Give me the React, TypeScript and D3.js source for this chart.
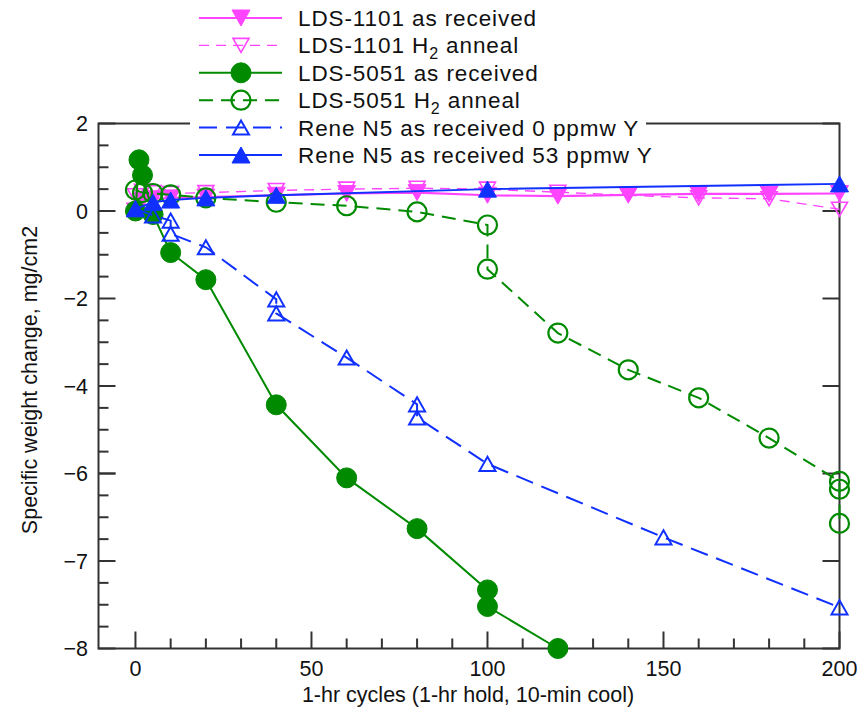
import React from "react";
import * as d3 from "d3";

// Cycle counts and specific weight change (mg/cm2) per specimen series
const lds1101ArCycles = [0, 2, 5, 10, 20, 40, 60, 80, 100, 120, 140, 160, 180, 200];
const lds1101ArValues = [0.0, 0.25, 0.28, 0.3, 0.32, 0.36, 0.4, 0.42, 0.36, 0.34, 0.37, 0.39, 0.39, 0.4];

const lds1101H2Cycles = [0, 2, 5, 10, 20, 40, 60, 80, 100, 120, 140, 160, 180, 200];
const lds1101H2Values = [0.35, 0.45, 0.42, 0.4, 0.42, 0.47, 0.5, 0.52, 0.5, 0.43, 0.36, 0.3, 0.28, 0.04];

const lds5051ArCycles = [0, 1, 2, 5, 10, 20, 40, 60, 80, 100, 100, 120];
const lds5051ArValues = [0.0, 1.17, 0.82, -0.08, -0.95, -1.57, -4.43, -6.05, -6.63, -7.33, -7.52, -8.0];

const lds5051H2Cycles = [0, 2, 5, 10, 20, 40, 60, 80, 100, 100, 120, 140, 160, 180, 200, 200, 200];
const lds5051H2Values = [0.48, 0.42, 0.4, 0.37, 0.3, 0.2, 0.12, -0.02, -0.32, -1.33, -2.79, -3.63, -4.27, -5.19, -6.09, -6.18, -6.57];

const reneY0Cycles = [0, 5, 10, 10, 20, 40, 40, 60, 80, 80, 100, 150, 200];
const reneY0Values = [0.05, -0.1, -0.22, -0.52, -0.83, -2.02, -2.34, -3.35, -4.42, -4.72, -5.78, -6.73, -7.53];

const reneY53Cycles = [0, 5, 10, 20, 40, 100, 200];
const reneY53Values = [0.05, 0.2, 0.25, 0.3, 0.36, 0.5, 0.62];

const xTickLabels = [0, 50, 100, 150, 200];
const yTickLabels = [2, 0, -2, -4, -6, -7, -8];

const MAGENTA = "#ff44ff";
const GREEN = "#008a00";
const BLUE = "#1030ff";

type Marker = "triDownFilled" | "triDownOpen" | "circleFilled" | "circleOpen" | "triUpOpen" | "triUpFilled";

interface Series {
  name: string;
  sub?: string;
  tail?: string;
  cycles: number[];
  values: number[];
  color: string;
  width: number;
  dash?: string;
  marker: Marker;
}

const series: Series[] = [
  { name: "LDS-1101 as received", cycles: lds1101ArCycles, values: lds1101ArValues, color: MAGENTA, width: 2.2, marker: "triDownFilled" },
  { name: "LDS-1101 H", sub: "2", tail: " anneal", cycles: lds1101H2Cycles, values: lds1101H2Values, color: MAGENTA, width: 1.4, dash: "10,7", marker: "triDownOpen" },
  { name: "LDS-5051 as received", cycles: lds5051ArCycles, values: lds5051ArValues, color: GREEN, width: 2, marker: "circleFilled" },
  { name: "LDS-5051 H", sub: "2", tail: " anneal", cycles: lds5051H2Cycles, values: lds5051H2Values, color: GREEN, width: 2, dash: "14,8", marker: "circleOpen" },
  { name: "Rene N5 as received 0 ppmw Y", cycles: reneY0Cycles, values: reneY0Values, color: BLUE, width: 2, dash: "18,9", marker: "triUpOpen" },
  { name: "Rene N5 as received 53 ppmw Y", cycles: reneY53Cycles, values: reneY53Values, color: BLUE, width: 2, marker: "triUpFilled" },
];

// plotting order: annealed LDS-1101 beneath the as-received set
const drawOrder = [1, 0, 2, 3, 4, 5];

const W = 862;
const H = 713;
const FONT = "Liberation Sans, Arial, sans-serif";

function MarkerShape({ kind, cx, cy, color }: { kind: Marker; cx: number; cy: number; color: string }) {
  switch (kind) {
    case "circleFilled":
      return <circle cx={cx} cy={cy} r={10} fill={color} stroke={color} strokeWidth={1} />;
    case "circleOpen":
      return <circle cx={cx} cy={cy} r={9.5} fill="none" stroke={color} strokeWidth={2.2} />;
    case "triDownFilled": {
      const w = 18, h = 16;
      const d = `M${cx - w / 2},${cy - h / 2}L${cx + w / 2},${cy - h / 2}L${cx},${cy + h / 2}Z`;
      return <path d={d} fill={color} stroke={color} strokeWidth={1} />;
    }
    case "triDownOpen": {
      const w = 16, h = 14;
      const d = `M${cx - w / 2},${cy - h / 2}L${cx + w / 2},${cy - h / 2}L${cx},${cy + h / 2}Z`;
      return <path d={d} fill="none" stroke={color} strokeWidth={1.6} />;
    }
    case "triUpFilled": {
      const w = 18, h = 16;
      const d = `M${cx - w / 2},${cy + h / 2}L${cx + w / 2},${cy + h / 2}L${cx},${cy - h / 2}Z`;
      return <path d={d} fill={color} stroke={color} strokeWidth={1} />;
    }
    case "triUpOpen": {
      const w = 16, h = 14;
      const d = `M${cx - w / 2},${cy + h / 2}L${cx + w / 2},${cy + h / 2}L${cx},${cy - h / 2}Z`;
      return <path d={d} fill="none" stroke={color} strokeWidth={2} />;
    }
  }
  return null;
}

export default function App() {
  const left = 98.5, right = 839.5, top = 123.5, bottom = 648.5;

  const x = d3.scaleLinear().domain([-10.5, 200]).range([left, right]);
  // Piecewise scale: 2 units per step down to -6, then 1 unit per step below
  const y = d3.scaleLinear().domain([2, -6, -8]).range([top, 473.5, bottom]);

  const line = d3
    .line<[number, number]>()
    .x((d) => x(d[0]))
    .y((d) => y(d[1]));

  const xMinor = d3.range(0, 201, 10);
  const yMinorUpper = d3.range(2, -6.01, -0.5);
  const yMinorLower = d3.range(-6, -8.01, -0.25);
  const yMinor = [...yMinorUpper, ...yMinorLower];

  const fmt = (v: number) => (v < 0 ? "\u2212" + Math.abs(v) : String(v));

  const legendX0 = 199, legendX1 = 282, legendMx = 241, legendTextX = 298;
  const legendY0 = 18, legendDy = 27.4;

  return (
    <svg
      width={W}
      height={H}
      viewBox={`0 0 ${W} ${H}`}
      style={{ position: "absolute", left: 0, top: 0, background: "white", fontFamily: FONT }}
    >
      <rect x={0} y={0} width={W} height={H} fill="white" />

      {/* plot frame */}
      <rect x={left} y={top} width={right - left} height={bottom - top} fill="none" stroke="#333" strokeWidth={2} />

      {/* x ticks (inward) */}
      {xMinor.map((v) => {
        const major = v % 50 === 0;
        return (
          <line key={"xt" + v} x1={x(v)} x2={x(v)} y1={bottom} y2={bottom - (major ? 17 : 10)} stroke="#333" strokeWidth={2} />
        );
      })}

      {/* y ticks, left (major + minor) */}
      {yMinor.map((v, i) => {
        const major = yTickLabels.some((t) => Math.abs(t - v) < 1e-6);
        return (
          <line key={"yt" + i} x1={left} x2={left + (major ? 17 : 10)} y1={y(v)} y2={y(v)} stroke="#333" strokeWidth={2} />
        );
      })}
      {/* y ticks, right (major only) */}
      {yTickLabels.map((v) => (
        <line key={"ytr" + v} x1={right} x2={right - 17} y1={y(v)} y2={y(v)} stroke="#333" strokeWidth={2} />
      ))}

      {/* tick labels */}
      {xTickLabels.map((v) => (
        <text key={"xl" + v} x={x(v)} y={676} textAnchor="middle" fontSize={21.5} fill="#111">
          {fmt(v)}
        </text>
      ))}
      {yTickLabels.map((v) => (
        <text key={"yl" + v} x={88} y={y(v) + 7.5} textAnchor="end" fontSize={21.5} fill="#111">
          {fmt(v)}
        </text>
      ))}

      {/* axis titles */}
      <text x={468} y={702} textAnchor="middle" fontSize={21.5} fill="#111">
        1-hr cycles (1-hr hold, 10-min cool)
      </text>
      <text transform="translate(37,380) rotate(-90)" textAnchor="middle" fontSize={21.5} fill="#111">
        Specific weight change, mg/cm2
      </text>

      {/* data */}
      {drawOrder.map((si) => {
        const s = series[si];
        const pts: [number, number][] = s.cycles.map((c, i) => [c, s.values[i]]);
        return (
          <g key={"s" + si}>
            <path d={line(pts) || ""} fill="none" stroke={s.color} strokeWidth={s.width} strokeDasharray={s.dash} />
            {pts.map((p, i) => (
              <MarkerShape key={i} kind={s.marker} cx={x(p[0])} cy={y(p[1])} color={s.color} />
            ))}
          </g>
        );
      })}

      {/* legend */}
      <rect x={190} y={0} width={456} height={168} fill="white" />
      {series.map((s, i) => {
        const ly = legendY0 + i * legendDy;
        return (
          <g key={"lg" + i}>
            <line x1={legendX0} x2={legendX1} y1={ly} y2={ly} stroke={s.color} strokeWidth={s.width} strokeDasharray={s.dash} />
            <MarkerShape kind={s.marker} cx={legendMx} cy={ly} color={s.color} />
            <text x={legendTextX} y={ly + 8} fontSize={22.5} letterSpacing={0.9} fill="#111">
              {s.name}
              {s.sub ? (
                <tspan dy={6} fontSize={16}>
                  {s.sub}
                </tspan>
              ) : null}
              {s.tail ? <tspan dy={s.sub ? -6 : 0}>{s.tail}</tspan> : null}
            </text>
          </g>
        );
      })}
    </svg>
  );
}
